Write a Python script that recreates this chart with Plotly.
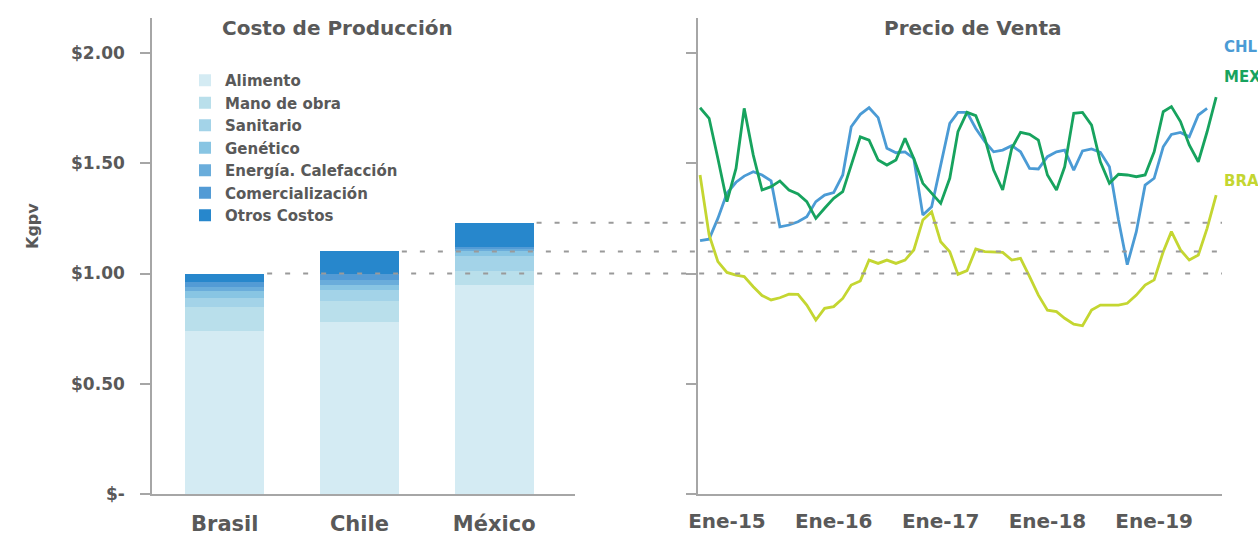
import pandas as pd
import plotly.graph_objects as go

# ---- Costo de Producción (USD / kg peso vivo) ----
countries = ["Brasil", "Chile", "México"]
cost_items = ["Alimento", "Mano de obra", "Sanitario", "Genético",
              "Energía. Calefacción", "Comercialización", "Otros Costos"]
alimento = [0.74, 0.78, 0.95]
mano_de_obra = [0.11, 0.095, 0.06]
sanitario = [0.04, 0.05, 0.07]
genetico = [0.03, 0.025, 0.02]
energia = [0.02, 0.02, 0.01]
comercializacion = [0.02, 0.03, 0.01]
otros_costos = [0.04, 0.10, 0.11]
cost_colors = ["#d4ebf3", "#b9dfeb", "#a3d3e8", "#88c5e3",
               "#6aaddb", "#539bd5", "#2787cc"]

# ---- Precio de Venta (monthly, from Oct-2014) ----
month_start = "2014-10-01"
price_chl = [1.149, 1.156, 1.25, 1.364, 1.414, 1.442, 1.462, 1.447, 1.42, 1.212,
             1.22, 1.235, 1.258, 1.326, 1.356, 1.367, 1.447, 1.666, 1.722, 1.752,
             1.707, 1.568, 1.548, 1.552, 1.522, 1.265, 1.303, 1.492, 1.681, 1.731,
             1.731, 1.658, 1.598, 1.552, 1.56, 1.58, 1.552, 1.477, 1.474, 1.53,
             1.552, 1.56, 1.469, 1.556, 1.565, 1.55, 1.484, 1.243, 1.04, 1.19,
             1.401, 1.432, 1.575, 1.631, 1.64, 1.62, 1.719, 1.749]
price_mex = [1.752, 1.704, 1.522, 1.326, 1.477, 1.749, 1.537, 1.379, 1.394, 1.42,
             1.379, 1.361, 1.326, 1.25, 1.296, 1.341, 1.371, 1.492, 1.62, 1.605,
             1.515, 1.492, 1.515, 1.613, 1.522, 1.409, 1.364, 1.318, 1.432, 1.643,
             1.731, 1.716, 1.613, 1.469, 1.379, 1.568, 1.64, 1.631, 1.605, 1.447,
             1.379, 1.484, 1.727, 1.731, 1.673, 1.507, 1.409, 1.45, 1.447, 1.439,
             1.447, 1.552, 1.734, 1.757, 1.689, 1.583, 1.507, 1.643, 1.80]
price_bra = [1.447, 1.175, 1.054, 1.005, 0.993, 0.986, 0.94, 0.90, 0.88, 0.89,
             0.906, 0.905, 0.857, 0.789, 0.842, 0.85, 0.887, 0.948, 0.966, 1.061,
             1.046, 1.061, 1.046, 1.061, 1.107, 1.243, 1.28, 1.144, 1.099, 0.996,
             1.013, 1.111, 1.099, 1.099, 1.096, 1.061, 1.069, 0.986, 0.902, 0.834,
             0.827, 0.797, 0.77, 0.763, 0.834, 0.857, 0.857, 0.857, 0.865, 0.902,
             0.948, 0.971, 1.099, 1.19, 1.107, 1.061, 1.084, 1.205, 1.356]
series_names = ["CHL", "MEX", "BRA"]
series_colors = ["#4b9bd5", "#17a35e", "#c4d631"]

y_ticks = [0, 0.5, 1.0, 1.5, 2.0]
y_tick_text = ["$-", "$0.50", "$1.00", "$1.50", "$2.00"]
year_ticks = ["2015-01-01", "2016-01-01", "2017-01-01", "2018-01-01", "2019-01-01"]
year_tick_text = ["Ene-15", "Ene-16", "Ene-17", "Ene-18", "Ene-19"]

FONT = "DejaVu Sans"
GREY = "#595959"
AXIS = "#a6a6a6"

W, H = 1258, 535
left_dom = [152 / W, 575 / W]
right_dom = [698 / W, 1222 / W]
y_dom = [41 / H, 517 / H]
y_range = [0, 2.159]
x_cat_range = [-0.54, 2.6]
bar_w = 0.585

fig = go.Figure()

cost_values = [alimento, mano_de_obra, sanitario, genetico, energia,
               comercializacion, otros_costos]
for name, vals, col in zip(cost_items, cost_values, cost_colors):
    fig.add_trace(go.Bar(
        x=countries, y=vals, name=name, marker=dict(color=col, line=dict(width=0)),
        width=bar_w, xaxis="x", yaxis="y", showlegend=True,
    ))

dates = pd.date_range(month_start, periods=len(price_mex), freq="MS")
for name, vals, col in zip(series_names, [price_chl, price_mex, price_bra], series_colors):
    fig.add_trace(go.Scatter(
        x=dates[:len(vals)], y=vals, mode="lines", name=name,
        line=dict(color=col, width=2.8), xaxis="x2", yaxis="y2", showlegend=False,
    ))

# end-of-line series labels
label_shift = {"CHL": (15, 61), "MEX": (6, 20), "BRA": (6, 14)}
for name, vals, col in zip(series_names, [price_chl, price_mex, price_bra], series_colors):
    dx, dy = label_shift[name]
    fig.add_annotation(
        x=dates[len(vals) - 1], y=vals[-1], xref="x2", yref="y2",
        text=f"<b>{name}</b>", showarrow=False, xanchor="left", yanchor="middle",
        xshift=dx, yshift=dy, font=dict(family=FONT, size=15, color=col),
    )

# dotted reference lines from each bar top across to the price panel
totals = [sum(v[i] for v in cost_values) for i in range(len(countries))]
for i, tot in enumerate(totals):
    frac = (i + bar_w / 2 - x_cat_range[0]) / (x_cat_range[1] - x_cat_range[0])
    x0 = left_dom[0] + frac * (left_dom[1] - left_dom[0]) + 3 / W
    fig.add_shape(
        type="line", xref="paper", yref="y", x0=x0, x1=right_dom[1], y0=tot, y1=tot,
        line=dict(color="#9a9a9a", width=2, dash="5px,13px"), layer="above",
    )

axis_common = dict(showline=True, linecolor=AXIS, linewidth=1.6, showgrid=False,
                   zeroline=False, automargin=False)
fig.update_layout(
    width=W, height=H,
    margin=dict(l=0, r=0, t=0, b=0),
    paper_bgcolor="white", plot_bgcolor="white",
    barmode="stack", bargap=0,
    font=dict(family=FONT, color=GREY),
    xaxis=dict(domain=left_dom, range=x_cat_range, type="category", anchor="y",
               ticks="", ticklabelstandoff=10,
               tickfont=dict(family=FONT, size=21, color=GREY, weight="bold"),
               **axis_common),
    yaxis=dict(domain=y_dom, range=y_range, anchor="x", tickvals=y_ticks,
               ticktext=y_tick_text, ticks="outside", ticklen=10, tickcolor=AXIS,
               tickwidth=1.6, ticklabelstandoff=12,
               tickfont=dict(family=FONT, size=17, color=GREY, weight="bold"),
               **axis_common),
    xaxis2=dict(domain=right_dom, range=["2014-09-24", "2019-08-21"], type="date",
                anchor="y2", tickvals=year_ticks, ticktext=year_tick_text, ticks="",
                ticklabelstandoff=8,
                tickfont=dict(family=FONT, size=20, color=GREY, weight="bold"),
                **axis_common),
    yaxis2=dict(domain=y_dom, range=y_range, anchor="x2", tickvals=y_ticks,
                showticklabels=False, ticks="outside", ticklen=10, tickcolor=AXIS,
                tickwidth=1.6, **axis_common),
    legend=dict(x=185 / W, y=1 - 64 / H, xanchor="left", yanchor="top",
                traceorder="normal", bgcolor="rgba(0,0,0,0)",
                font=dict(family=FONT, size=15, color=GREY, weight="bold"),
                itemwidth=30),
    annotations=list(fig.layout.annotations) + [
        dict(text="<b>Costo de Producción</b>", xref="paper", yref="paper",
             x=337 / W, y=1 - 28 / H,
             showarrow=False, xanchor="center", yanchor="middle",
             font=dict(family=FONT, size=20, color=GREY)),
        dict(text="<b>Precio de Venta</b>", xref="paper", yref="paper",
             x=973 / W, y=1 - 28 / H, showarrow=False, xanchor="center",
             yanchor="middle", font=dict(family=FONT, size=20, color=GREY)),
        dict(text="<b>Kgpv</b>", xref="paper", yref="paper",
             x=33 / W, y=1 - 226 / H, textangle=-90, showarrow=False,
             xanchor="center", yanchor="middle",
             font=dict(family=FONT, size=16, color=GREY)),
    ],
)

fig.write_html("out.html")
